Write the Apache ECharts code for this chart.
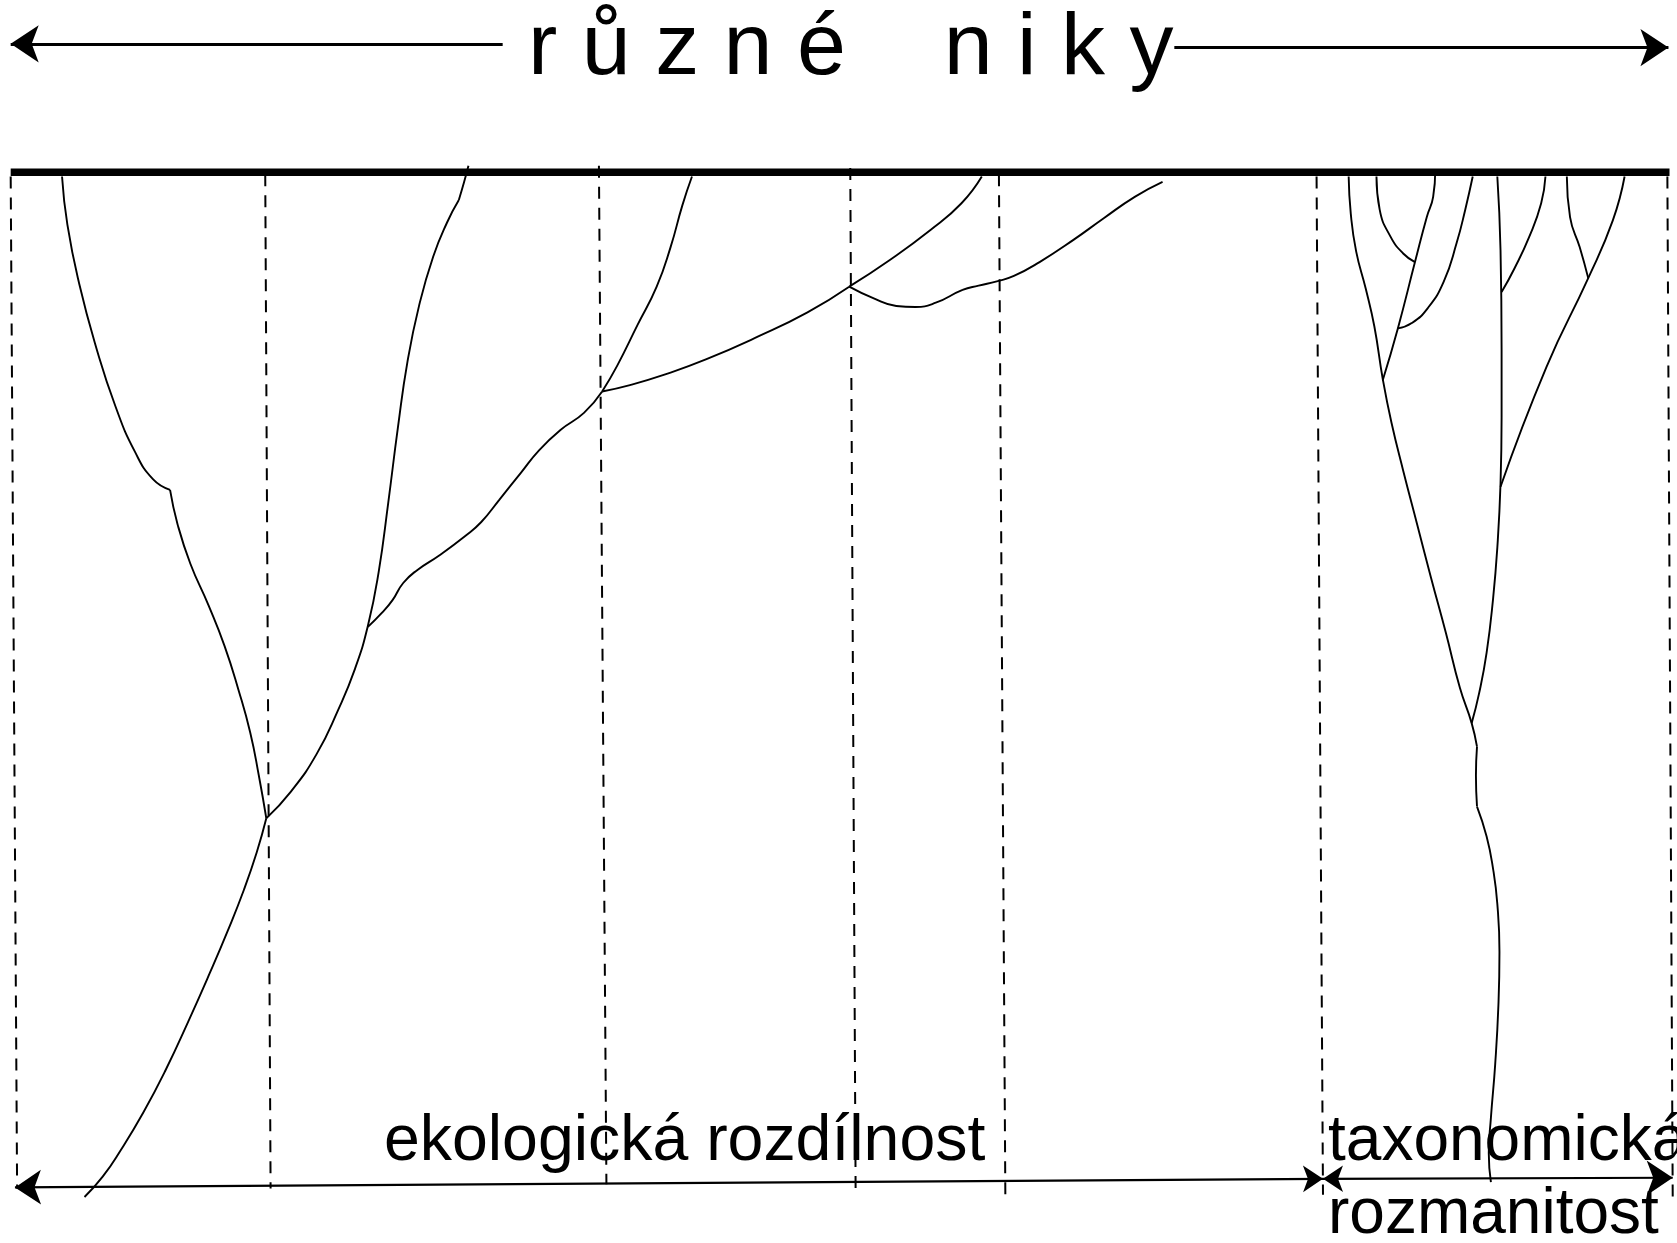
<!DOCTYPE html>
<html>
<head>
<meta charset="utf-8">
<script src="https://cdn.jsdelivr.net/npm/echarts@6/dist/echarts.min.js"></script>
<style>
    html, body { margin: 0; padding: 0; background: #fff; }
    #chart { width: 1677px; height: 1243px; }
</style>
</head>
<body>
<div id="chart"></div>
<script>
// picture units: 1568 x 1162, stretched onto the 1677 x 1243 page
const axisX = [0, 1568];
const axisY = [0, 1162];

// ecological branches
const branchA1 = [[58, 165], [63, 210], [74, 265], [90, 325], [108, 380], [126, 422], [143, 448], [159, 458]];
const branchA2 = [[159, 458], [166, 490], [178, 527], [195, 566], [210, 604], [223, 645], [234, 685], [242, 725], [249, 765]];
const branchA3 = [[249, 765], [240, 797], [228, 832], [213, 870], [196, 910], [176, 955], [155, 1000], [134, 1040], [113, 1075], [96, 1100], [79, 1119]];
const branchB1 = [[249, 765], [272, 740], [296, 705], [316, 664], [332, 625], [344, 585], [354, 535], [363, 470], [372, 400], [381, 338], [392, 285], [405, 240], [418, 208], [429, 187]];
const branchB2 = [[429, 187], [434, 170], [438, 155]];
const branchC = [[344, 586], [357, 573], [367, 561], [377, 545], [390, 533], [411, 519], [435, 501], [450, 488], [467, 467], [487, 442], [504, 421], [524, 402], [546, 386], [563, 366]];
const branchD = [[563, 366], [577, 342], [596, 304], [614, 268], [627, 231], [638, 192], [647, 165]];
const branchE = [[563, 366], [589, 360], [622, 350], [660, 336], [708, 315], [755, 292], [794, 268]];
const branchF = [[794, 268], [832, 243], [870, 215], [899, 190], [918, 165]];
const branchG = [[794, 268], [817, 279], [838, 286], [856, 287], [875, 283], [900, 271], [915, 267], [932, 263], [948, 258], [972, 245], [1004, 224], [1032, 204], [1061, 184], [1087, 170]];

// taxonomic branches
const branchH1 = [[1261, 165], [1263, 200], [1268, 235], [1277, 270], [1285, 305], [1293, 355], [1301, 395], [1312, 440], [1325, 490], [1338, 540], [1352, 592], [1365, 643], [1376, 676], [1381, 698]];
const branchH2 = [[1381, 698], [1380, 725], [1381, 754]];
const branchH3 = [[1381, 754], [1390, 782], [1396, 812], [1400, 845], [1402, 890], [1401, 940], [1398, 995], [1394, 1045], [1392, 1078], [1394, 1105]];
const branchI = [[1400, 165], [1403, 234], [1404, 327], [1404, 390], [1403, 452], [1400, 512], [1396, 560], [1390, 610], [1383, 648], [1376, 676]];
const branchJ = [[1287, 165], [1290, 196], [1300, 221], [1312, 237], [1323, 245]];
const branchK = [[1342, 159], [1340, 184], [1334, 203], [1323, 245], [1307, 307], [1293, 355]];
const branchL = [[1377, 165], [1370, 196], [1362, 227], [1350, 263], [1335, 288], [1320, 302], [1307, 307]];
const branchM = [[1404, 273], [1416, 251], [1430, 221], [1441, 190], [1445, 165]];
const branchN = [[1465, 165], [1468, 203], [1477, 231], [1485, 260]];
const branchO = [[1519, 165], [1508, 206], [1485, 260], [1446, 343], [1403, 455]];

// niche boundaries (top, bottom)
const nicheLines = [
    [[10, 165], [16, 1111]],
    [[248, 163], [253, 1111]],
    [[560, 155], [567, 1107]],
    [[795, 157], [800, 1112]],
    [[934, 163], [940, 1117]],
    [[1231, 165], [1237, 1117]],
    [[1559, 165], [1564, 1120]]
];
const presentLine = [[10, 161], [1561, 161]];

// arrows
const titleArrows = [
    [[470, 41], [10, 41]],
    [[1098, 44.5], [1560, 44.5]]
];
const rangeArrows = [
    [[1237, 1102], [14, 1110]],
    [[1237, 1102], [1564, 1101]]
];

const titleText = 'r ů z n é    n i k y';
const ecoText = 'ekologická rozdílnost';
const taxText1 = 'taxonomická';
const taxText2 = 'rozmanitost';

(function () {
    const myChart = echarts.init(document.getElementById('chart'));
    const font = '"Liberation Sans", Arial, sans-serif';

    // one smooth stroke per branch
    const branch = (data, w) => ({
        'type': 'line',
        'data': data,
        'smooth': 0.5,
        'showSymbol': false,
        'clip': false,
        'silent': true,
        'lineStyle': { 'color': '#000', 'width': w || 1.9 }
    });

    const branches = [branchA1, branchA2, branchA3, branchB1, branchB2, branchC, branchD, branchE, branchF, branchG,
        branchH1, branchH2, branchH3, branchI, branchJ, branchK, branchL, branchM, branchN, branchO];

    const series = [];
    nicheLines.forEach((d) => {
        series.push({
            'type': 'line',
            'data': d,
            'showSymbol': false,
            'clip': false,
            'silent': true,
            'lineStyle': { 'color': '#000', 'width': 2, 'type': [12, 9] }
        });
    });
    series.push(branch(presentLine, 7.5));
    branches.forEach((d) => series.push(branch(d)));

    series.push({
        'type': 'lines',
        'coordinateSystem': 'cartesian2d',
        'silent': true,
        'symbol': ['none', 'arrow'],
        'symbolSize': [20, 28],
        'lineStyle': { 'color': '#000', 'width': 3, 'opacity': 1 },
        'data': titleArrows.map((c) => ({ 'coords': c }))
    });
    series.push({
        'type': 'lines',
        'coordinateSystem': 'cartesian2d',
        'silent': true,
        'symbol': ['arrow', 'arrow'],
        'symbolSize': [20, 26],
        'lineStyle': { 'color': '#000', 'width': 2.2, 'opacity': 1 },
        'data': rangeArrows.map((c) => ({ 'coords': c }))
    });

    const label = (text, x, y, size) => ({
        'type': 'text',
        'x': x,
        'y': y,
        'silent': true,
        'style': {
            'text': text,
            'fill': '#000',
            'font': size + 'px ' + font,
            'textVerticalAlign': 'middle'
        }
    });

    myChart.setOption({
        'backgroundColor': '#fff',
        'animation': false,
        'grid': { 'left': 0, 'right': 0, 'top': 0, 'bottom': 0 },
        'xAxis': { 'type': 'value', 'min': axisX[0], 'max': axisX[1], 'show': false },
        'yAxis': { 'type': 'value', 'min': axisY[0], 'max': axisY[1], 'inverse': true, 'show': false },
        'series': series,
        'graphic': [
            label(titleText, 528, 50, 88),
            label(ecoText, 384, 1142, 64.4),
            label(taxText1, 1328, 1142, 64),
            label(taxText2, 1328, 1215, 64)
        ]
    });
})()
</script>
</body>
</html>
